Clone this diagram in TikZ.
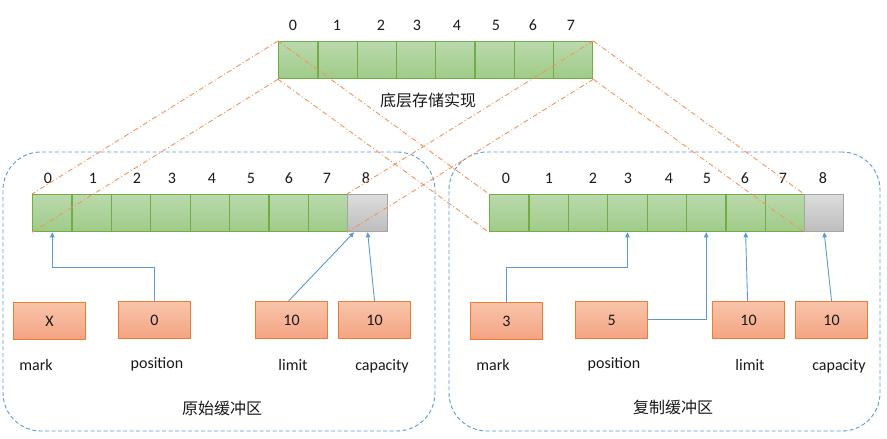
\documentclass[tikz,border=0pt]{standalone}
\usepackage{fontspec}
\setmainfont{Carlito}
\newfontfamily\cjk{Noto Sans CJK SC}
\usetikzlibrary{arrows.meta}
\definecolor{cgreen}{HTML}{70AD47}
\definecolor{gtop}{HTML}{BAD9AC}
\definecolor{gbot}{HTML}{9FCB87}
\definecolor{cgray}{HTML}{A5A5A5}
\definecolor{graytop}{HTML}{DCDCDC}
\definecolor{graybot}{HTML}{BDBDBD}
\definecolor{corange}{HTML}{ED7D31}
\definecolor{otop}{HTML}{F8C4AA}
\definecolor{obot}{HTML}{F4A483}
\definecolor{cblue}{HTML}{5B9BD5}
\definecolor{cdash}{HTML}{F2955A}
\definecolor{ctext}{HTML}{1A1A1A}
\begin{document}
\begin{tikzpicture}[x=1pt,y=-1pt,
  font=\fontsize{16}{19}\selectfont, text=ctext,
  cellbox/.style={draw=cgreen, line width=1.3pt, top color=gtop, bottom color=gbot,
    minimum width=39.4pt, minimum height=37pt, inner sep=0pt, anchor=north west},
  graycell/.style={cellbox, draw=cgray, top color=graytop, bottom color=graybot},
  valbox/.style={draw=corange, line width=1.1pt, top color=otop, bottom color=obot,
    minimum width=72pt, minimum height=37pt, inner sep=0pt, anchor=north west},
  oline/.style={draw=cdash, line width=0.9pt, dash pattern=on 5pt off 2.5pt on 1pt off 2.5pt},
  arr/.style={draw=cblue, line width=0.9pt, -{Triangle[length=5pt,width=4.5pt]}},
  dbox/.style={draw=cblue, line width=0.9pt, dash pattern=on 4pt off 2.5pt, rounded corners=38pt,
    inner sep=0pt},
  idx/.style={inner sep=0pt, anchor=center},
  lbl/.style={inner sep=0pt, anchor=base},
  cjklbl/.style={inner sep=0pt, anchor=center, font=\fontsize{16}{19}\selectfont\cjk}
]
\fill[white] (0,0) rectangle (887,439);
\useasboundingbox (0,0) rectangle (887,439);

% dashed group boxes
\node[dbox, minimum width=432pt, minimum height=279pt] (lgroup) at (219,291.5) {};
\node[dbox, minimum width=431pt, minimum height=279pt] (rgroup) at (664.5,291.5) {};

% top array
\foreach \i in {0,...,7} \node[cellbox, minimum width=39.25pt] (t\i) at ({278+39.25*\i},41) {};
\foreach \x [count=\i from 0] in {293,337,381,417,457,496,533,571}
  \node[idx] (ti\i) at (\x,25) {\i};
\node[cjklbl] (tlabel) at (428,100) {底层存储实现};

% left array
\foreach \i in {0,...,7} \node[cellbox] (l\i) at ({32+39.375*\i},194) {};
\node[graycell, minimum width=40pt] (l8) at (347,194) {};
\foreach \x [count=\i from 0] in {48,93,137,172,212,251,289,327,366}
  \node[idx] (li\i) at (\x,178) {\i};

% right array
\foreach \i in {0,...,7} \node[cellbox] (r\i) at ({489+39.375*\i},194) {};
\node[graycell, minimum width=39pt] (r8) at (804,194) {};
\foreach \x [count=\i from 0] in {506,549,593,628,669,707,745,783,823}
  \node[idx] (ri\i) at (\x,178) {\i};

% orange mapping lines
\draw[oline] (t0.north west) -- (l0.north west);
\draw[oline] (t0.south west) -- (l0.south west);
\draw[oline] (t7.north east) -- (l8.north west);
\draw[oline] (t7.south east) -- (l8.south west);
\draw[oline] (t0.north west) -- (r0.north west);
\draw[oline] (t0.south west) -- (r0.south west);
\draw[oline] (t7.north east) -- (r8.north west);
\draw[oline] (t7.south east) -- (r8.south west);

% left value boxes
\node[valbox] (lmark) at (13,302) {X};
\node[valbox] (lpos) at (118,301) {0};
\node[valbox] (llim) at (255,301) {10};
\node[valbox] (lcap) at (338,301) {10};
\node[lbl] (lmarkt) at (36,370.5) {mark};
\node[lbl] (lpost) at (157,368) {position};
\node[lbl] (llimt) at (293,370.5) {limit};
\node[lbl] (lcapt) at (382,370.5) {capacity};
\node[cjklbl] (lglabel) at (222,408) {原始缓冲区};

% right value boxes
\node[valbox] (rmark) at (470,302) {3};
\node[valbox] (rpos) at (575,301) {5};
\node[valbox] (rlim) at (712,301) {10};
\node[valbox] (rcap) at (795,301) {10};
\node[lbl] (rmarkt) at (493,370.5) {mark};
\node[lbl] (rpost) at (614,368) {position};
\node[lbl] (rlimt) at (750,370.5) {limit};
\node[lbl] (rcapt) at (839,370.5) {capacity};
\node[cjklbl] (rglabel) at (673,407) {复制缓冲区};

% left arrows
\draw[arr] (lpos.north) -- ++(0,-34) -| (l0.south);
\draw[arr] ([xshift=-3pt]llim.north) -- ([xshift=7pt]l8.south west);
\draw[arr] (lcap.north) -- (l8.south);

% right arrows
\draw[arr] (rmark.north) -- ++(0,-35) -| (r3.south);
\draw[arr] ([yshift=1pt]rpos.east) -| (r5.south);
\draw[arr] ([xshift=-1pt]rlim.north) -- (r6.south);
\draw[arr] (rcap.north) -- (r8.south);
\end{tikzpicture}
\end{document}
